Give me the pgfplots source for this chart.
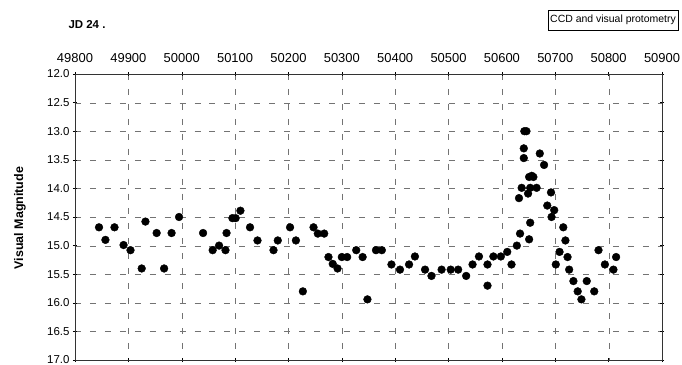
\documentclass[border=0pt]{standalone}
\usepackage{fontspec}
\setmainfont{Liberation Sans}
\usepackage{pgfplots}
\pgfplotsset{compat=1.18}
\begin{document}
\begin{tikzpicture}
\begin{axis}[
  at={(0,0)}, anchor=south west,
  scale only axis, width=587bp, height=286bp,
  xmin=49800, xmax=50900, ymin=12, ymax=17, y dir=reverse,
  xtick distance=100, ytick distance=0.5,
  scaled x ticks=false,
  xticklabel pos=top,
  /pgf/number format/assume math mode=true,
  x tick label style={/pgf/number format/.cd, fixed, precision=0, set thousands separator={}, /tikz/.cd, font=\fontsize{13}{15}\selectfont, yshift=6bp},
  y tick label style={/pgf/number format/.cd, fixed, fixed zerofill, precision=1, /tikz/.cd, font=\fontsize{11.5}{13}\selectfont},
  grid=major,
  major grid style={black!55, very thin, dash pattern=on 6pt off 9pt},
  tick style={black, thin},
  major tick length=4bp,
  tick align=center,
  axis line style={black!80, thin},
]
\addplot[only marks, mark=*, mark size=3.9pt, black] table {
49845 14.68
49857 14.90
49874 14.68
49891 14.99
49904 15.08
49925 15.40
49932 14.58
49953 14.78
49967 15.40
49981 14.78
49995 14.50
50040 14.78
50058 15.08
50070 15.00
50082 15.08
50084 14.78
50095 14.52
50101 14.52
50110 14.39
50128 14.68
50142 14.91
50172 15.08
50180 14.91
50203 14.68
50214 14.91
50227 15.80
50247 14.68
50255 14.79
50267 14.79
50275 15.20
50283 15.32
50292 15.40
50300 15.20
50310 15.20
50327 15.08
50339 15.20
50348 15.94
50364 15.08
50375 15.08
50393 15.33
50409 15.42
50426 15.33
50437 15.19
50456 15.42
50468 15.53
50487 15.42
50504 15.42
50518 15.42
50533 15.53
50545 15.33
50557 15.19
50573 15.33
50573 15.70
50584 15.19
50598 15.19
50610 15.11
50618 15.33
50628 15.00
50632 14.17
50634 14.79
50637 13.99
50641 13.30
50641 13.47
50642 13.00
50646 13.00
50649 14.09
50651 14.89
50651 13.80
50653 14.60
50653 13.99
50656 13.78
50659 13.80
50665 13.99
50671 13.39
50679 13.59
50685 14.30
50692 14.07
50693 14.50
50698 14.38
50701 15.33
50708 15.11
50715 14.68
50719 14.91
50723 15.20
50726 15.42
50734 15.62
50742 15.80
50749 15.94
50759 15.62
50773 15.80
50781 15.08
50793 15.33
50809 15.42
50814 15.20
};
\end{axis}
\node[rotate=90, font=\bfseries\fontsize{12.5}{14}\selectfont] at (-55bp,142bp) {Visual Magnitude};
\node[font=\bfseries\fontsize{11.5}{13}\selectfont] at (12bp,335bp) {JD 24 .};
\node[draw, thin, inner xsep=2bp, inner ysep=5bp, anchor=east, font=\fontsize{10.5}{12}\selectfont] at (603bp,340bp) {CCD and visual protometry};
\pgfresetboundingbox
\path[use as bounding box] (-75bp,-5bp) rectangle (607bp,360bp);
\end{tikzpicture}
\end{document}
